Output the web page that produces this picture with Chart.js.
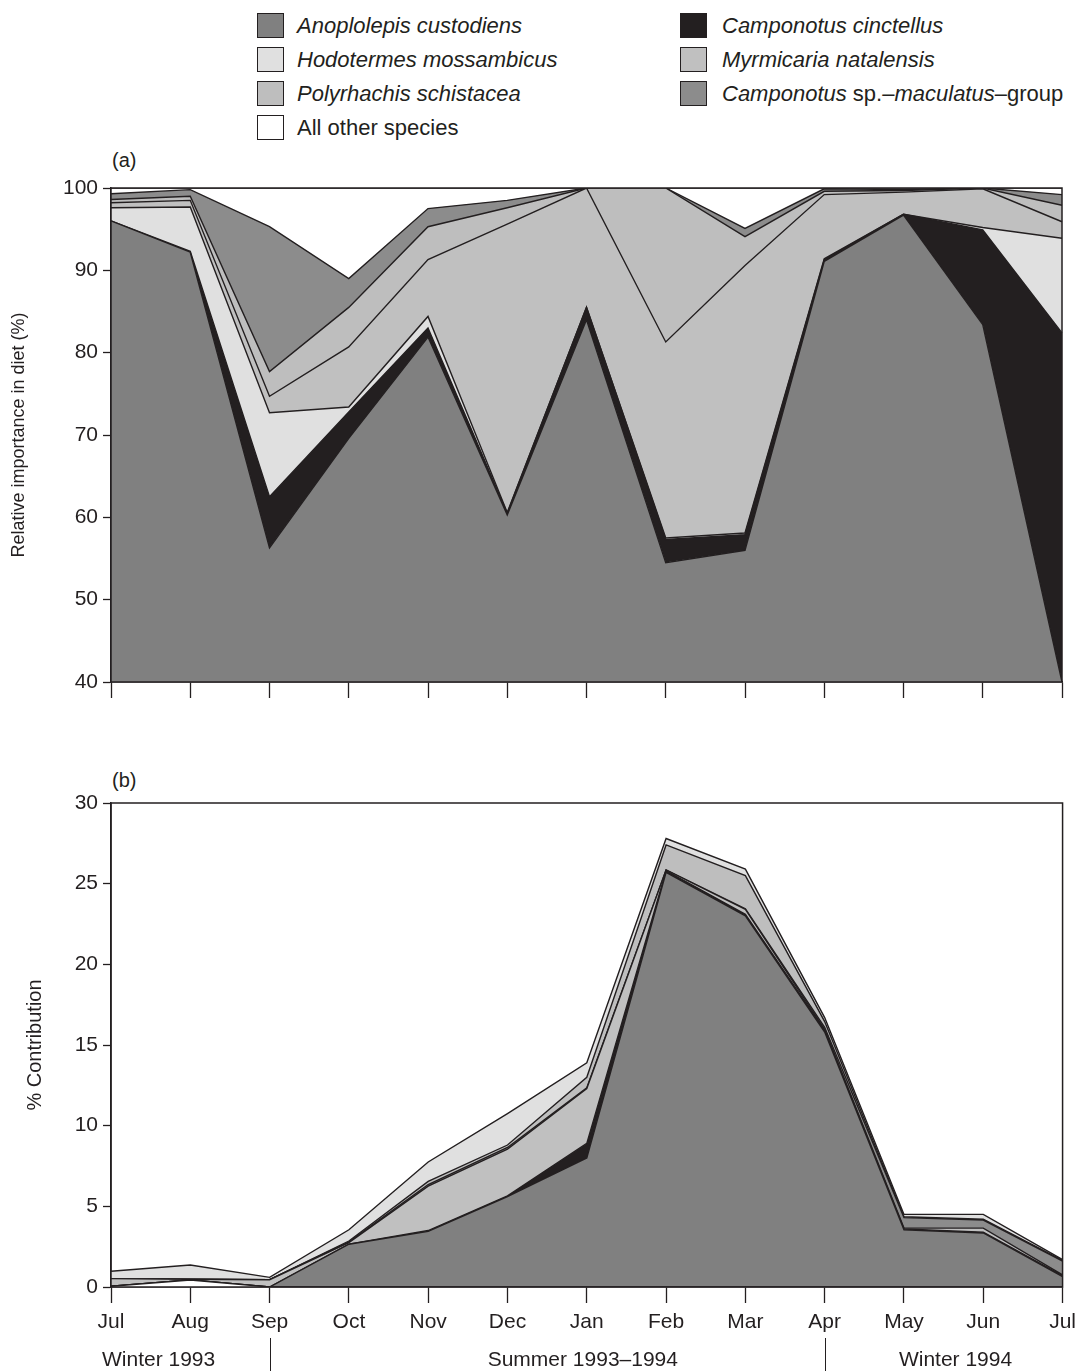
<!DOCTYPE html>
<html lang="en">
<head>
  <meta charset="UTF-8">
  <title>Ant and termite diet</title>
  <script src="https://cdn.jsdelivr.net/npm/chart.js"></script>
  <style>
    body {
      margin: 0;
      background: #ffffff;
      font-family: 'Liberation Sans', Arial, sans-serif;
      color: #231f20;
    }
    #page { position: relative; width: 1078px; height: 1371px; overflow: hidden; }
    .sw { position: absolute; width: 25px; height: 23px; border: 1px solid #231f20; }
    .lt { position: absolute; font-size: 22px; line-height: 24px; white-space: nowrap; }
    .tag { position: absolute; font-size: 20px; line-height: 24px; }
    canvas { position: absolute; left: 0; }
  </style>
</head>
<body>
<div id="page">
  <!-- legend -->
  <div class="sw" style="left:257px; top:13px; background:#808080;"></div>
  <div class="lt" style="left:297px; top:14px;"><i>Anoplolepis custodiens</i></div>
  <div class="sw" style="left:257px; top:47px; background:#e0e0e0;"></div>
  <div class="lt" style="left:297px; top:48px;"><i>Hodotermes mossambicus</i></div>
  <div class="sw" style="left:257px; top:81px; background:#bebebe;"></div>
  <div class="lt" style="left:297px; top:82px;"><i>Polyrhachis schistacea</i></div>
  <div class="sw" style="left:257px; top:115px; background:#ffffff;"></div>
  <div class="lt" style="left:297px; top:116px;">All other species</div>

  <div class="sw" style="left:680px; top:13px; background:#231f20;"></div>
  <div class="lt" style="left:722px; top:14px;"><i>Camponotus cinctellus</i></div>
  <div class="sw" style="left:680px; top:47px; background:#c0c0c0;"></div>
  <div class="lt" style="left:722px; top:48px;"><i>Myrmicaria natalensis</i></div>
  <div class="sw" style="left:680px; top:81px; background:#8c8c8c;"></div>
  <div class="lt" style="left:722px; top:82px;"><i>Camponotus</i> sp.–<i>maculatus</i>–group</div>

  <div class="tag" style="left:112px; top:148px;">(a)</div>
  <div class="tag" style="left:112px; top:768px;">(b)</div>

  <canvas id="chartA" width="1078" height="580" style="top:140px;"></canvas>
  <canvas id="chartB" width="1083" height="631" style="top:740px;"></canvas>
</div>

<script>
  const months = ['Jul', 'Aug', 'Sep', 'Oct', 'Nov', 'Dec', 'Jan', 'Feb', 'Mar', 'Apr', 'May', 'Jun', 'Jul'];
  const seasons = ['Winter 1993', 'Summer 1993–1994', 'Winter 1994'];

  // (a) relative importance in diet (%), bottom to top
  const anopA  = [96.0, 92.2, 56.3, 69.6, 81.9, 60.3, 84.0, 54.5, 56.0, 91.1, 96.7, 83.4, 40.0];
  const cinctA = [0.0, 0.1, 6.2, 3.2, 1.1, 0.2, 1.5, 2.8, 1.9, 0.2, 0.1, 11.5, 42.4];
  const hodoA  = [1.6, 5.4, 10.2, 0.6, 1.4, 0.1, 0.0, 0.2, 0.2, 0.1, 0.0, 0.3, 11.5];
  const myrmA  = [0.6, 0.8, 2.0, 7.3, 6.9, 35.0, 14.5, 23.8, 32.5, 7.8, 2.7, 4.7, 2.0];
  const polyA  = [0.4, 0.5, 3.0, 4.8, 4.0, 2.0, 0.0, 18.7, 3.5, 0.4, 0.2, 0.1, 2.0];
  const cspA   = [0.7, 0.8, 17.6, 3.5, 2.2, 0.9, 0.0, 0.0, 1.0, 0.3, 0.1, 0.0, 1.3];
  const otherA = [0.7, 0.2, 4.7, 11.0, 2.5, 1.5, 0.0, 0.0, 4.9, 0.1, 0.2, 0.0, 0.8];

  // (b) % contribution, bottom to top
  const otherB = [0.05, 0.43, 0, 0, 0, 0, 0, 0, 0, 0, 0, 0, 0];
  const anopB  = [0, 0, 0, 2.65, 3.45, 5.6, 8.0, 25.7, 23.0, 15.8, 3.55, 3.35, 0.65];
  const cinctB = [0, 0, 0, 0, 0.05, 0.05, 0.9, 0.1, 0.1, 0.1, 0.05, 0.05, 0.05];
  const myrmB  = [0.47, 0.05, 0.45, 0.1, 2.75, 2.9, 3.4, 0.05, 0.3, 0.05, 0.05, 0.25, 0.05];
  const cspB   = [0, 0, 0, 0.05, 0.1, 0.1, 0.05, 0, 0.05, 0.15, 0.65, 0.5, 0.85];
  const polyB  = [0, 0, 0, 0.05, 0.2, 0.15, 0.65, 1.55, 2.05, 0.35, 0.05, 0.05, 0.05];
  const hodoB  = [0.46, 0.88, 0.15, 0.7, 1.2, 1.95, 0.9, 0.4, 0.4, 0.25, 0.15, 0.3, 0.05];

  const INK = '#231f20';
  const col = {
    anop: '#808080', cinct: '#231f20', hodo: '#e0e0e0', myrm: '#c0c0c0',
    poly: '#bebebe', csp: '#8c8c8c', other: '#ffffff'
  };

  function area(label, data, color, fill) {
    return {
      label: label, data: data, backgroundColor: color, borderColor: INK,
      borderWidth: 1.4, pointRadius: 0, tension: 0, fill: fill
    };
  }

  const frame = {
    id: 'frame',
    afterDraw(chart) {
      const a = chart.chartArea, ctx = chart.ctx;
      ctx.save();
      ctx.strokeStyle = INK;
      ctx.lineWidth = 1.5;
      ctx.strokeRect(a.left, a.top, a.right - a.left, a.bottom - a.top);
      ctx.restore();
    }
  };

  // season captions under panel (b)
  const seasonBar = {
    id: 'seasonBar',
    afterDraw(chart) {
      const x = chart.scales.x, ctx = chart.ctx;
      const h = chart.height;
      ctx.save();
      ctx.strokeStyle = INK;
      ctx.lineWidth = 1;
      [2, 9].forEach(i => {
        const px = Math.round(x.getPixelForValue(i)) + 0.5;
        ctx.beginPath();
        ctx.moveTo(px, h - 33);
        ctx.lineTo(px, h);
        ctx.stroke();
      });
      ctx.fillStyle = INK;
      ctx.font = '21px "Liberation Sans", Arial, sans-serif';
      ctx.textAlign = 'center';
      ctx.textBaseline = 'middle';
      const at = [0.6, 5.95, 10.65];
      seasons.forEach((s, i) => {
        const px = x.left + (x.right - x.left) * at[i] / (months.length - 1);
        ctx.fillText(s, px, h - 11);
      });
      ctx.restore();
    }
  };

  function xAxis(height, showLabels) {
    return {
      type: 'category',
      labels: months,
      offset: false,
      grid: { drawOnChartArea: false, drawTicks: true, tickLength: 16, tickColor: INK, tickWidth: 1.3 },
      border: { color: INK, width: 1.5 },
      ticks: { display: showLabels, color: INK, font: { size: 21 }, padding: 7, maxRotation: 0, autoSkip: false },
      afterFit(s) { s.height = height; }
    };
  }

  function yAxis(min, max, step, title, titleSize, titlePad) {
    return {
      stacked: true,
      min: min, max: max,
      ticks: { stepSize: step, color: INK, font: { size: 21 }, padding: 5 },
      grid: { drawOnChartArea: false, tickLength: 8, tickColor: INK, tickWidth: 1.3 },
      border: { color: INK, width: 1.5 },
      title: { display: true, text: title, color: INK, font: { size: titleSize }, padding: { top: titlePad, bottom: 0 } },
      afterFit(s) { s.width = 111; }
    };
  }

  Chart.defaults.font.family = "'Liberation Sans', Arial, sans-serif";

  new Chart(document.getElementById('chartA'), {
    type: 'line',
    data: {
      labels: months,
      datasets: [
        area('Anoplolepis custodiens', anopA, col.anop, 'start'),
        area('Camponotus cinctellus', cinctA, col.cinct, '-1'),
        area('Hodotermes mossambicus', hodoA, col.hodo, '-1'),
        area('Myrmicaria natalensis', myrmA, col.myrm, '-1'),
        area('Polyrhachis schistacea', polyA, col.poly, '-1'),
        area('Camponotus sp.–maculatus–group', cspA, col.csp, '-1'),
        area('All other species', otherA, col.other, '-1')
      ]
    },
    options: {
      responsive: false,
      animation: false,
      layout: { padding: { top: 48, right: 16, bottom: 0, left: 0 } },
      plugins: { legend: { display: false }, tooltip: { enabled: false } },
      scales: {
        x: xAxis(38, false),
        y: yAxis(40, 100, 10, 'Relative importance in diet (%)', 18, 8)
      }
    },
    plugins: [frame]
  });

  new Chart(document.getElementById('chartB'), {
    type: 'line',
    data: {
      labels: months,
      datasets: [
        area('All other species', otherB, col.other, 'origin'),
        area('Anoplolepis custodiens', anopB, col.anop, '-1'),
        area('Camponotus cinctellus', cinctB, col.cinct, '-1'),
        area('Myrmicaria natalensis', myrmB, col.myrm, '-1'),
        area('Camponotus sp.–maculatus–group', cspB, col.csp, '-1'),
        area('Polyrhachis schistacea', polyB, col.poly, '-1'),
        area('Hodotermes mossambicus', hodoB, col.hodo, '-1')
      ]
    },
    options: {
      responsive: false,
      animation: false,
      layout: { padding: { top: 63, right: 0, bottom: 31, left: 0 } },
      plugins: { legend: { display: false }, tooltip: { enabled: false } },
      scales: {
        x: xAxis(53, true),
        y: yAxis(0, 30, 5, '% Contribution', 20, 23)
      }
    },
    plugins: [frame, seasonBar]
  });
</script>
</body>
</html>
